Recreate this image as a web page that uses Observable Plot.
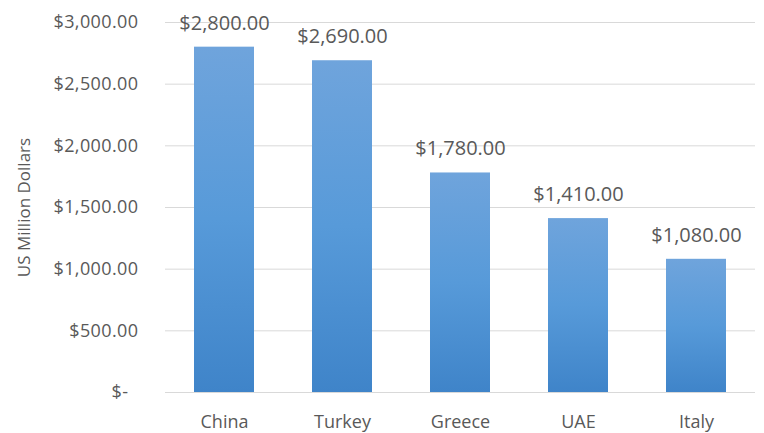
<!DOCTYPE html>
<html>
<head>
<meta charset="utf-8">
<script src="https://cdn.jsdelivr.net/npm/d3@7"></script>
<script src="https://cdn.jsdelivr.net/npm/@observablehq/plot@0.6"></script>
<style>
  html, body { margin: 0; padding: 0; background: #fff; }
  #chart svg { display: block; }
</style>
</head>
<body>
<div id="chart"></div>
<script>
const countries = ["China", "Turkey", "Greece", "UAE", "Italy"];
const values = [2800, 2690, 1780, 1410, 1080];
const yTicks = [500, 1000, 1500, 2000, 2500, 3000];
const yTitle = "US Million Dollars";

const data = countries.map((c, i) => ({country: c, value: values[i]}));
const money = d3.format(",.2f");
const fmt = v => "$" + money(v);

const font = "'Open Sans', sans-serif";
const textColor = "#595959";

const plot = Plot.plot({
  width: 764,
  height: 433,
  marginLeft: 165,
  marginRight: 9,
  marginTop: 22,
  marginBottom: 41,
  style: {fontFamily: font, color: textColor, background: "#fff"},
  x: {domain: countries, paddingInner: 0.49, paddingOuter: 0.245, align: 0.5},
  y: {domain: [0, 3000]},
  marks: [
    Plot.ruleY([0, ...yTicks], {stroke: "#d9d9d9", strokeWidth: 1}),
    Plot.barY(data, {x: "country", y: "value", fill: "url(#barGrad)", ariaLabel: "bars"}),
    Plot.text(data, {x: "country", y: "value", text: d => fmt(d.value), dy: -24, fontSize: 20, fill: textColor, ariaLabel: "value-labels"}),
    Plot.axisY({ticks: yTicks, tickFormat: fmt, tickSize: 0, tickPadding: 27, fontSize: 18, label: null}),
    Plot.axisY({ticks: [0], tickFormat: () => "$-", tickSize: 0, tickPadding: 37, fontSize: 18, label: null}),
    Plot.axisX({tickSize: 0, tickPadding: 23, fontSize: 18, label: null}),
    Plot.text([yTitle], {frameAnchor: "left", textAnchor: "middle", dx: -141, rotate: -90, fontSize: 17, fill: textColor, text: d => d, ariaLabel: "y-title"})
  ]
});

const svg = d3.select(plot);
const defs = svg.insert("defs", ":first-child");
const g = defs.append("linearGradient").attr("id", "barGrad").attr("x1", 0).attr("y1", 0).attr("x2", 0).attr("y2", 1);
g.append("stop").attr("offset", "0%").attr("stop-color", "#6fa4dc");
g.append("stop").attr("offset", "50%").attr("stop-color", "#579ad9");
g.append("stop").attr("offset", "100%").attr("stop-color", "#3f84c9");
const f = defs.append("filter").attr("id", "barShadow").attr("x", "-10%").attr("y", "-10%").attr("width", "130%").attr("height", "120%");
f.append("feDropShadow").attr("dx", 1.5).attr("dy", 1).attr("stdDeviation", 1.2).attr("flood-color", "#000").attr("flood-opacity", 0.25);
svg.selectAll("g[aria-label='bars'] rect").attr("filter", "url(#barShadow)");
svg.selectAll("g[aria-label='y-axis tick label'] text").attr("letter-spacing", "0.4");
svg.selectAll("g[aria-label='value-labels'] text").attr("letter-spacing", "0.5");
svg.selectAll("g[aria-label='y-title'] text").attr("letter-spacing", "1.5");
document.getElementById("chart").appendChild(plot);
</script>
</body>
</html>
